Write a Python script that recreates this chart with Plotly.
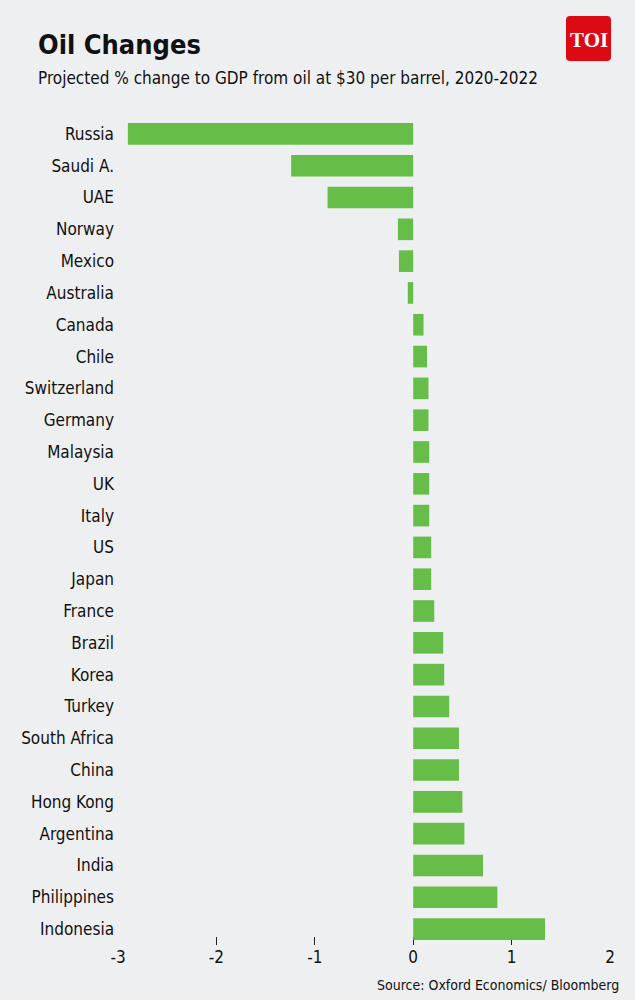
import plotly.graph_objects as go

countries = ["Russia", "Saudi A.", "UAE", "Norway", "Mexico", "Australia", "Canada", "Chile",
             "Switzerland", "Germany", "Malaysia", "UK", "Italy", "US", "Japan", "France",
             "Brazil", "Korea", "Turkey", "South Africa", "China", "Hong Kong", "Argentina",
             "India", "Philippines", "Indonesia"]
values = [-2.90, -1.24, -0.87, -0.155, -0.145, -0.055, 0.105, 0.14, 0.155, 0.155, 0.163, 0.163,
          0.163, 0.183, 0.183, 0.214, 0.305, 0.315, 0.366, 0.465, 0.465, 0.50, 0.52, 0.71,
          0.855, 1.34]
tick_vals = [-3, -2, -1, 0, 1, 2]
tick_marks = [-2, -1, 0, 1, 2]

title = "Oil Changes"
subtitle = "Projected % change to GDP from oil at $30 per barrel, 2020-2022"
source = "Source: Oxford Economics/ Bloomberg"

W, H = 635, 1000
ML, MR, MT, MB = 118, 25, 118, 55
PW, PH = W - ML - MR, H - MT - MB

def px(x):
    return (x - ML) / PW

def py(y):
    return (H - MB - y) / PH

FONT = "DejaVu Sans Condensed, Roboto, sans-serif"
BG = "#eeeff1"

fig = go.Figure(go.Bar(
    x=values, y=countries, orientation="h",
    marker=dict(color="#66bd47", line=dict(width=0)),
    width=0.68, hoverinfo="x+y",
))

fig.update_layout(
    width=W, height=H,
    margin=dict(l=ML, r=MR, t=MT, b=MB),
    paper_bgcolor=BG, plot_bgcolor=BG,
    font=dict(family=FONT, color="#111111", size=17),
    showlegend=False,
    xaxis=dict(range=[-3, 2], tickvals=tick_vals, ticktext=[str(v) for v in tick_vals],
               showgrid=False, zeroline=False, showline=False, ticks="",
               tickfont=dict(size=17, color="#111111"), fixedrange=True),
    xaxis2=dict(range=[-3, 2], overlaying="x", side="bottom", tickvals=tick_marks,
                showticklabels=False, ticks="inside", ticklen=8, tickwidth=1,
                tickcolor="#222222", showgrid=False, zeroline=False, showline=False,
                layer="below traces", anchor="y"),
    yaxis=dict(categoryorder="array", categoryarray=countries, autorange="reversed",
               showgrid=False, zeroline=False, showline=False, ticks="",
               tickfont=dict(size=17, color="#111111"), ticklabelstandoff=3),
)

fig.add_trace(go.Scatter(x=[None], y=[None], xaxis="x2", yaxis="y", showlegend=False,
                         hoverinfo="skip"))

fig.add_annotation(text="<b>" + title + "</b>", x=px(36), y=py(45), xref="paper", yref="paper",
                   xanchor="left", yanchor="middle", showarrow=False,
                   font=dict(size=27, color="#111111", family=FONT))
fig.add_annotation(text=subtitle, x=px(36), y=py(78), xref="paper", yref="paper",
                   xanchor="left", yanchor="middle", showarrow=False,
                   font=dict(size=17, color="#111111", family=FONT))
fig.add_annotation(text=source, x=px(621), y=py(985), xref="paper", yref="paper",
                   xanchor="right", yanchor="middle", showarrow=False,
                   font=dict(size=14, color="#111111", family=FONT))

# TOI logo
x0, x1, y0, y1, r = 566, 611, 16, 61, 4
path = (f"M {px(x0+r)},{py(y0)} L {px(x1-r)},{py(y0)} Q {px(x1)},{py(y0)} {px(x1)},{py(y0+r)} "
        f"L {px(x1)},{py(y1-r)} Q {px(x1)},{py(y1)} {px(x1-r)},{py(y1)} "
        f"L {px(x0+r)},{py(y1)} Q {px(x0)},{py(y1)} {px(x0)},{py(y1-r)} "
        f"L {px(x0)},{py(y0+r)} Q {px(x0)},{py(y0)} {px(x0+r)},{py(y0)} Z")
fig.add_shape(type="path", path=path, xref="paper", yref="paper",
              fillcolor="#dc0a14", line=dict(width=0), layer="above")
fig.add_annotation(text="<b>TOI</b>", x=px(588.5), y=py(39.5), xref="paper", yref="paper",
                   xanchor="center", yanchor="middle", showarrow=False,
                   font=dict(size=21, color="white", family="Liberation Serif, DejaVu Serif, serif"))

fig.write_html("out.html", config={"displayModeBar": False},
               post_script="document.body.style.margin='0';")
